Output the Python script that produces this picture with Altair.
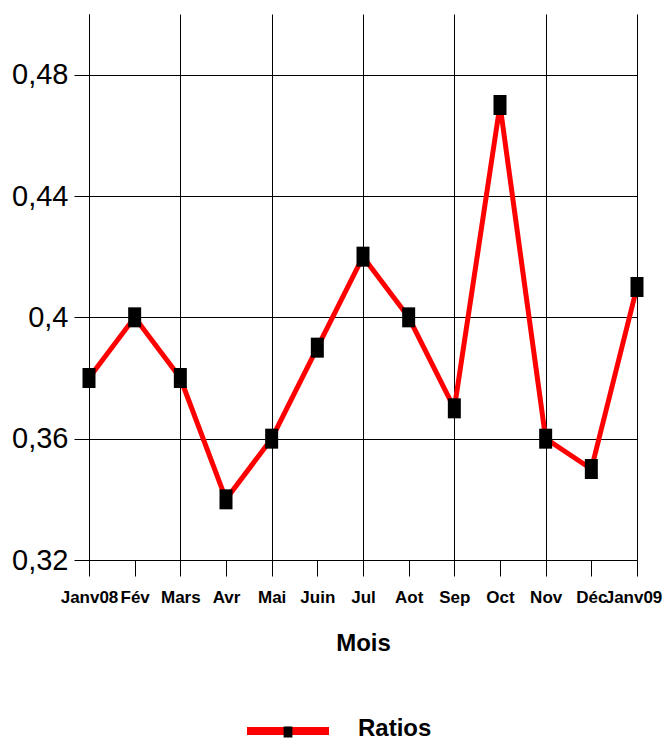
import altair as alt
import pandas as pd

months = ["Janv08", "Fév", "Mars", "Avr", "Mai", "Juin", "Jul", "Aot", "Sep", "Oct", "Nov", "Déc", "Janv09"]
ratios = [0.38, 0.40, 0.38, 0.34, 0.36, 0.39, 0.42, 0.40, 0.37, 0.47, 0.36, 0.35, 0.41]
y_ticks = [0.32, 0.36, 0.40, 0.44, 0.48]
series_name = ["Ratios"]

df = pd.DataFrame({"idx": list(range(len(months))), "month": months, "ratio": ratios})
legend_df = pd.DataFrame({"name": series_name})

FONT = "Liberation Sans, Arial, sans-serif"
label_expr = "[" + ",".join(f"'{m}'" for m in months) + "][datum.value]"
last = len(months) - 1

x = alt.X(
    "idx:Q",
    scale=alt.Scale(domain=[0, last], nice=False, zero=False),
    axis=alt.Axis(
        values=list(range(len(months))),
        labelExpr=label_expr,
        title="Mois",
        grid=True,
        gridColor="#000000",
        gridOpacity={"condition": {"test": "datum.value % 2 === 0", "value": 1}, "value": 0},
        tickSize=16,
        tickColor="#000000",
        domainColor="#000000",
        labelFontSize=17,
        labelFontWeight="bold",
        labelFont=FONT,
        labelColor="#000000",
        labelPadding=13,
        labelOffset={"condition": {"test": f"datum.value === {last}", "value": -4}, "value": 0},
        labelFlush=False,
        labelOverlap=False,
        titleFontSize=24,
        titleFontWeight="bold",
        titleFont=FONT,
        titleColor="#000000",
        titlePadding=26,
    ),
)

y = alt.Y(
    "ratio:Q",
    scale=alt.Scale(domain=[0.32, 0.50], nice=False, zero=False),
    axis=alt.Axis(
        values=y_ticks,
        labelExpr="replace(format(datum.value, '.2~f'), '.', ',')",
        title=None,
        grid=True,
        gridColor="#000000",
        tickSize=15,
        tickColor="#000000",
        domainColor="#000000",
        labelFontSize=29,
        labelFont=FONT,
        labelColor="#000000",
        labelPadding=6,
        labelFlush=False,
        labelOverlap=False,
    ),
)

line = alt.Chart(df).mark_line(color="#ff0000", strokeWidth=5).encode(x=x, y=y)
points = alt.Chart(df).mark_point(
    shape="M-0.65,-1H0.65V1H-0.65Z", size=400, filled=True, color="#000000", opacity=1
).encode(x=x, y=y)

leg_line = alt.Chart(legend_df).mark_rule(color="#ff0000", strokeWidth=8).encode(
    x=alt.value(158), x2=alt.value(240), y=alt.value(717)
)
leg_pt = alt.Chart(legend_df).mark_point(
    shape="M-0.8,-1H0.8V1H-0.8Z", size=121, filled=True, color="#000000", opacity=1
).encode(x=alt.value(199), y=alt.value(718))
leg_text = alt.Chart(legend_df).mark_text(
    align="left", baseline="middle", fontSize=24, fontWeight="bold", font=FONT, color="#000000"
).encode(x=alt.value(269), y=alt.value(715), text="name:N")

chart = (
    alt.layer(line, points, leg_line, leg_pt, leg_text)
    .properties(
        width=548,
        height=546,
        autosize=alt.AutoSizeParams(type="none"),
        padding={"left": 81, "top": 6, "right": 27, "bottom": 181},
        background="white",
    )
    .configure_view(stroke=None)
)

chart.save("out.html", embed_options={"renderer": "svg", "actions": False})
